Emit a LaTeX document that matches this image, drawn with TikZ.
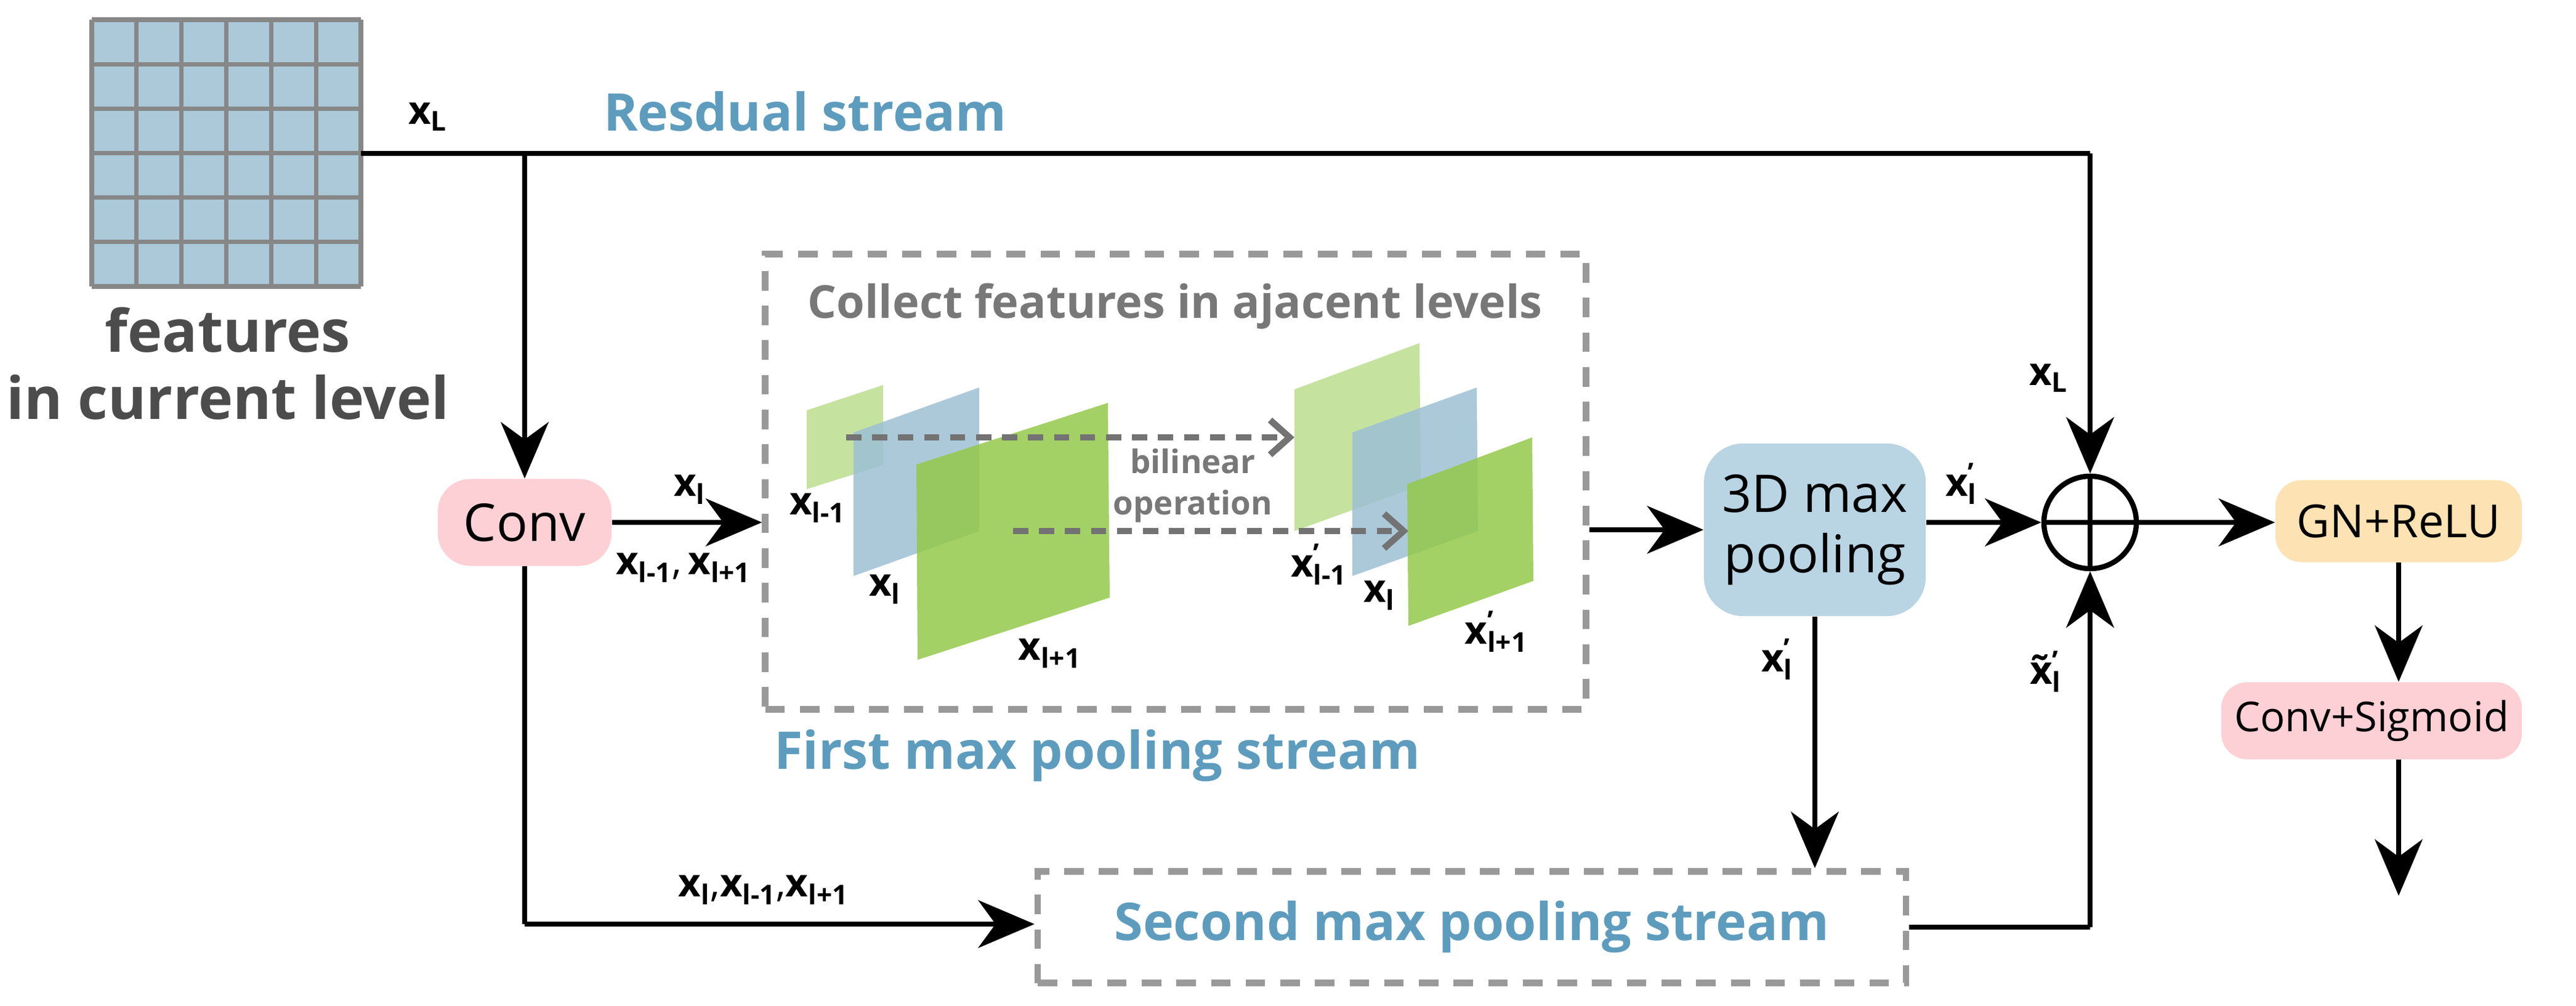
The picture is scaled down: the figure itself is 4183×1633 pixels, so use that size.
\documentclass[tikz,border=0pt]{standalone}
\usepackage{fontspec}
\setmainfont{Open Sans}
\usetikzlibrary{arrows.meta,calc}
\definecolor{cellblue}{HTML}{ABC9D9}
\definecolor{stream}{HTML}{5E9CBE}
\definecolor{ttl}{HTML}{787878}
\definecolor{pinkb}{HTML}{FDD0D5}
\definecolor{blueb}{HTML}{B9D4E3}
\definecolor{orangeb}{HTML}{FDE2B3}
\definecolor{lgreen}{HTML}{BCDD8E}
\definecolor{dgreen}{HTML}{94C94A}
\definecolor{sblue}{HTML}{9DC0D4}
\newcommand{\xs}[1]{\textbf{x}\textsubscript{\textbf{#1}}}
\newcommand{\xp}[1]{\textbf{x}\rlap{\textsuperscript{\textbf{'}}}\textsubscript{\textbf{#1}}}
\begin{document}
\begin{tikzpicture}[x=0.01cm,y=-0.01cm,
  conn/.style={line width=2.4pt,-{Stealth[length=26pt,width=22pt,inset=8pt]}},
  line/.style={line width=2.4pt},
  dbox/.style={draw=black!40,line width=3pt,dash pattern=on 9pt off 7pt},
  box/.style={rounded corners=15pt,inner sep=0pt,font=\fontsize{24}{28}\selectfont,align=center},
  lab/.style={font=\fontsize{18}{20}\selectfont,inner sep=1pt},
  sheet/.style={opacity=0.85},
  streamt/.style={text=stream,font=\bfseries\fontsize{24}{28}\selectfont}]
\useasboundingbox (0,0) rectangle (4183,1633);
% grid
\fill[cellblue] (149,32) rectangle (586,465);
\foreach \i in {0,...,6}{
  \draw[black!47,line width=2pt] ({149+\i*437/6},32) -- ({149+\i*437/6},465);
  \draw[black!47,line width=2pt] (149,{32+\i*433/6}) -- (586,{32+\i*433/6});}
\coordinate (grid) at (586,249);
\node[text=black!70,font=\bfseries\fontsize{27}{31}\selectfont,align=center] (feat) at (370,590) {features\\in current level};
\node[lab] (xL) at (695,190) {\textbf{x}\textsubscript{\textbf{L}}};
\node[streamt] (res) at (1307,181) {Resdual stream};
% nodes
\node[box,fill=pinkb,minimum width=282*0.2845pt,minimum height=141*0.2845pt] (conv) at (852,848) {Conv};
\node[box,rounded corners=18pt,fill=blueb,minimum width=360*0.2845pt,minimum height=280*0.2845pt] (pool) at (2947,860) {3D max\\pooling};
\node[draw,line width=2.4pt,circle,minimum size=150*0.2845pt,inner sep=0pt] (sum) at (3394,848) {};
\draw[line width=2.4pt] (sum.north) -- (sum.south) (sum.west) -- (sum.east);
\node[box,rounded corners=12pt,fill=orangeb,minimum width=400*0.2845pt,minimum height=133*0.2845pt,font=\fontsize{21}{24}\selectfont] (gn) at (3895,846) {GN+ReLU};
\node[box,rounded corners=12pt,fill=pinkb,minimum width=488*0.2845pt,minimum height=125*0.2845pt,font=\fontsize{19}{22}\selectfont] (cs) at (3851,1170) {Conv+Sigmoid};
\coordinate (out) at (3895,1454);
% first box
\node[dbox,minimum width=1332*0.2845pt,minimum height=739*0.2845pt,inner sep=0pt] (fbox) at (1909,782) {};
\node[text=ttl,font=\bfseries\fontsize{21}{26}\selectfont] (coll) at (1908,497) {Collect features in ajacent levels};
\node[streamt] (first) at (1782,1227) {First max pooling stream};
\node[dbox,minimum width=1409*0.2845pt,minimum height=181*0.2845pt,inner sep=0pt,text=stream,font=\bfseries\fontsize{24}{28}\selectfont] (sbox) at (2390,1505) {Second max pooling stream};
% sheets
\fill[lgreen,sheet] (1310,666) -- (1434,625) -- (1434,755) -- (1310,794) -- cycle;
\fill[sblue,sheet] (1386,702) -- (1590,629) -- (1590,862) -- (1386,935) -- cycle;
\fill[dgreen,sheet] (1488,754) -- (1799,654) -- (1802,970) -- (1490,1071) -- cycle;
\fill[lgreen,sheet] (2102,632) -- (2305,557) -- (2307,788) -- (2102,862) -- cycle;
\fill[sblue,sheet] (2196,702) -- (2398,629) -- (2400,862) -- (2196,935) -- cycle;
\fill[dgreen,sheet] (2285,786) -- (2488,710) -- (2490,943) -- (2287,1016) -- cycle;
\coordinate (a1) at (1374,710); \coordinate (b1) at (2102,710);
\coordinate (a2) at (1645,862); \coordinate (b2) at (2287,862);
\draw[black!55,line width=3pt,dash pattern=on 7pt off 5pt,-{Straight Barb[length=9pt,width=16pt]}] (a1) -- (b1);
\draw[black!55,line width=3pt,dash pattern=on 7pt off 5pt,-{Straight Barb[length=9pt,width=16pt]}] (a2) -- (b2);
\node[text=ttl,font=\bfseries\fontsize{15}{19}\selectfont,align=center] (bil) at (1937,788) {bilinear\\operation};
\node[lab] (l1) at (1328,825) {\xs{l-1}};
\node[lab] (l2) at (1437,957) {\xs{l}};
\node[lab] (l3) at (1705,1061) {\xs{l+1}};
\node[lab] (l4) at (2142,916) {\xp{l-1}};
\node[lab] (l5) at (2240,967) {\xs{l}};
\node[lab] (l6) at (2430,1025) {\xp{l+1}};
% connectors
\coordinate (j1) at (852,249);
\coordinate (j2) at (3394,249);
\coordinate (j3) at (852,1500);
\coordinate (j4) at (3394,1505);
\draw[line] (grid) -- (j2);
\draw[conn] (j2) -- (sum.north);
\draw[conn] (j1) -- (conv.north);
\draw[conn] (conv.east) -- (fbox.west |- conv.east);
\draw[conn] (fbox.east |- pool.west) -- (pool.west);
\draw[conn] (pool.east |- sum.west) -- (sum.west);
\draw[conn] (sum.east) -- (gn.west |- sum.east);
\draw[conn] (gn.south) -- (gn.south |- cs.north);
\draw[conn] (gn.south |- cs.south) -- (out);
\draw[conn] (pool.south) -- (pool.south |- sbox.north);
\draw[line] (conv.south) -- (j3);
\draw[conn] (j3) -- (sbox.west |- j3);
\draw[line] (sbox.east) -- (j4);
\draw[conn] (j4) -- (sum.south);
% labels
\node[lab] (c1) at (1120,795) {\xs{l}};
\node[lab] (c2) at (1110,922) {\xs{l-1},\,\xs{l+1}};
\node[lab] (c3) at (1240,1445) {\xs{l},\xs{l-1},\xs{l+1}};
\node[lab] (s1) at (3327,614) {\textbf{x}\textsubscript{\textbf{L}}};
\node[lab] (s2) at (3185,785) {\xp{l}};
\node[lab] (s3) at (2886,1070) {\xp{l}};
\node[lab] (s4) at (3322,1090) {\textbf{\~{x}}\rlap{\textsuperscript{\textbf{'}}}\textsubscript{\textbf{l}}};
\end{tikzpicture}
\end{document}
